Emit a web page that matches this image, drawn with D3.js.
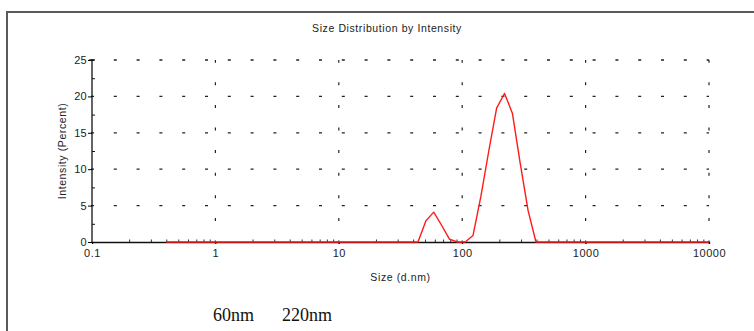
<!DOCTYPE html>
<html>
<head>
<meta charset="utf-8">
<script src="https://cdn.jsdelivr.net/npm/d3@7"></script>
<style>
  html, body { margin: 0; padding: 0; background: #fff; }
  svg { display: block; }
</style>
</head>
<body>
<svg id="chart" width="754" height="331"></svg>
<script>
// ---- data ----
const sizes = [0.4, 0.4632, 0.5365, 0.6213, 0.7195, 0.8332, 0.9649, 1.117, 1.294, 1.499,
  1.736, 2.010, 2.328, 2.696, 3.122, 3.615, 4.187, 4.849, 5.615, 6.503, 7.531, 8.721,
  10.10, 11.70, 13.54, 15.69, 18.17, 21.04, 24.36, 28.21, 32.67, 37.84, 43.82, 50.75,
  58.77, 68.06, 78.82, 91.28, 105.7, 122.4, 141.8, 164.2, 190.1, 220.2, 255.0, 295.3,
  342.0, 396.1, 458.7, 531.2, 615.1, 712.4, 825.0, 955.4, 1106, 1281, 1484, 1718, 1990,
  2305, 2669, 3091, 3580, 4145, 4801, 5560, 6439, 7456, 8635, 10000];
const intensity = [0, 0, 0, 0, 0, 0, 0, 0, 0, 0,
  0, 0, 0, 0, 0, 0, 0, 0, 0, 0, 0, 0,
  0, 0, 0, 0, 0, 0, 0, 0, 0, 0, 0, 2.9,
  4.1, 2.3, 0.4, 0, 0, 0.9, 6.3, 12.5, 18.4, 20.4, 17.7, 10.8,
  4.3, 0, 0, 0, 0, 0, 0, 0, 0, 0, 0, 0, 0,
  0, 0, 0, 0, 0, 0, 0, 0, 0, 0, 0];
const xMajorTicks = [0.1, 1, 10, 100, 1000, 10000];
const xTickLabels = ["0.1", "1", "10", "100", "1000", "10000"];
const yMajorTicks = [0, 5, 10, 15, 20, 25];
const yMinorTicks = [2.5, 7.5, 12.5, 17.5, 22.5];
const titleText = "Size Distribution by Intensity";
const xLabel = "Size (d.nm)";
const yLabel = "Intensity (Percent)";
const peakNotes = ["60nm", "220nm"];

// ---- layout ----
const SANS = "'Liberation Sans', Arial, sans-serif";
const SERIF = "'Liberation Serif', 'Times New Roman', serif";
const svg = d3.select("#chart");
const x = d3.scaleLog().domain([0.1, 10000]).range([92, 709]);
const y = d3.scaleLinear().domain([0, 25]).range([242, 60]);

// outer frame
svg.append("path")
  .attr("d", "M7,331 L7,12 L754,12")
  .attr("fill", "none").attr("stroke", "#5a5a5a").attr("stroke-width", 2);

// title
svg.append("text").attr("x", 387).attr("y", 32)
  .attr("text-anchor", "middle")
  .style("font-family", SANS).style("font-size", "10.5px").style("letter-spacing", "0.6px")
  .attr("fill", "#222").text(titleText);

// grid horizontal
const g = svg.append("g");
g.selectAll(".hg").data(yMajorTicks.filter(d => d > 0)).join("line")
  .attr("x1", x(0.1) - 1).attr("x2", x(10000))
  .attr("y1", d => y(d)).attr("y2", d => y(d))
  .attr("stroke", "#222").attr("stroke-width", 1.3)
  .attr("stroke-dasharray", "3,19.8");
// grid vertical
g.selectAll(".vg").data(xMajorTicks.filter(d => d > 0.1)).join("line")
  .attr("x1", d => x(d)).attr("x2", d => x(d))
  .attr("y1", y(0) + 1.5).attr("y2", y(25))
  .attr("stroke", "#222").attr("stroke-width", 1.2)
  .attr("stroke-dasharray", "3,19.6");

// minor x ticks (inside)
const minorX = [];
for (let e = -1; e < 4; e++) for (let m = 2; m <= 9; m++) minorX.push(m * Math.pow(10, e));

const xMinorAxis = d3.axisBottom(x).tickValues(minorX).tickSize(-2.5).tickFormat("");
svg.append("g").attr("transform", `translate(0,${y(0)})`).call(xMinorAxis)
  .call(s => s.select(".domain").remove())
  .selectAll("line").attr("stroke", "#333");

const line = d3.line().x((d, i) => x(sizes[i])).y(d => y(d));

// x axis
const xAxis = d3.axisBottom(x).tickValues(xMajorTicks)
  .tickFormat((d, i) => xTickLabels[i]).tickSize(2).tickPadding(5);
const xg = svg.append("g").attr("transform", `translate(0,${y(0)})`).call(xAxis);
xg.select(".domain").attr("stroke", "#111").attr("stroke-width", 1.3);
xg.selectAll("text").attr("fill", "#222")
  .style("font-family", SANS).style("font-size", "11px").style("letter-spacing", "0.5px");

// data line
svg.append("path").datum(intensity)
  .attr("d", line).attr("fill", "none")
  .attr("stroke", "#ff1a1a").attr("stroke-width", 1.4).attr("stroke-linejoin", "round");

// y axis
const yAxis = d3.axisLeft(y).tickValues(yMajorTicks).tickSize(4).tickPadding(1);
const yg = svg.append("g").attr("transform", `translate(${x(0.1)},0)`).call(yAxis);
yg.select(".domain").attr("d", `M0,${y(0)}V${y(25)}`).attr("stroke", "#111").attr("stroke-width", 1.3);
yg.selectAll("text").attr("fill", "#222")
  .style("font-family", SANS).style("font-size", "11px").style("letter-spacing", "0.3px");
const yMinor = d3.axisLeft(y).tickValues(yMinorTicks).tickSize(-3).tickFormat("");
svg.append("g").attr("transform", `translate(${x(0.1)},0)`).call(yMinor)
  .call(s => s.select(".domain").remove())
  .selectAll("line").attr("stroke", "#111");
// top cap on y axis
svg.append("line").attr("x1", x(0.1) - 3).attr("x2", x(0.1) + 3)
  .attr("y1", y(25)).attr("y2", y(25)).attr("stroke", "#111").attr("stroke-width", 1.3);

// axis labels
svg.append("text").attr("x", (x(0.1) + x(10000)) / 2).attr("y", 281)
  .attr("text-anchor", "middle")
  .style("font-family", SANS).style("font-size", "10.5px").style("letter-spacing", "0.6px")
  .attr("fill", "#222").text(xLabel);
svg.append("text").attr("transform", `translate(66,${(y(0) + y(25)) / 2}) rotate(-90)`)
  .attr("text-anchor", "middle")
  .style("font-family", SANS).style("font-size", "10.5px").style("letter-spacing", "0.6px")
  .attr("fill", "#222").text(yLabel);

// notes
svg.append("text").attr("x", 213).attr("y", 321)
  .style("font-family", SERIF).style("font-size", "18px")
  .attr("fill", "#111").text(peakNotes[0]);
svg.append("text").attr("x", 282).attr("y", 321)
  .style("font-family", SERIF).style("font-size", "18px")
  .attr("fill", "#111").text(peakNotes[1]);
</script>
</body>
</html>
